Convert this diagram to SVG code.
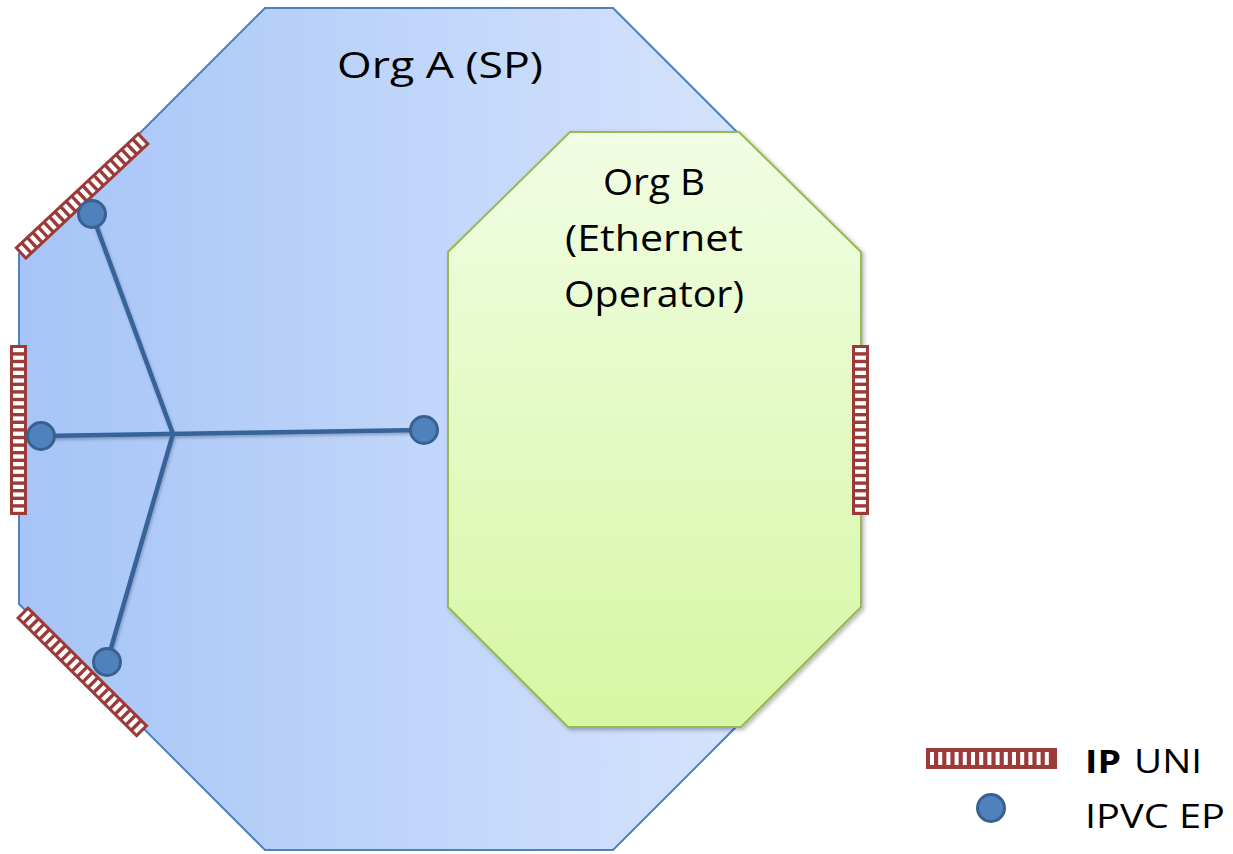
<svg xmlns="http://www.w3.org/2000/svg" xmlns:xlink="http://www.w3.org/1999/xlink" width="1233" height="854" viewBox="0 0 1233 854">
<style>
.lbl{font-family:"Open Sans","Liberation Sans",sans-serif;fill:#000;}
.conn{stroke:#36649a;stroke-width:4.5;fill:none;stroke-linecap:round;}
.ep{fill:#4f81bd;stroke:#39618f;stroke-width:3;}
</style>
<defs>
<linearGradient id="gA" x1="0" y1="0" x2="1" y2="0">
<stop offset="0" stop-color="#a6c4f7"/>
<stop offset="1" stop-color="#dde9fd"/>
</linearGradient>
<linearGradient id="gB" x1="0" y1="0" x2="0" y2="1">
<stop offset="0" stop-color="#f1fde4"/>
<stop offset="1" stop-color="#d6f7a3"/>
</linearGradient>
<filter id="sh" x="-10%" y="-10%" width="120%" height="120%">
<feDropShadow dx="2" dy="2" stdDeviation="2" flood-color="#000" flood-opacity="0.3"/>
</filter>
<filter id="lsh" x="-10%" y="-10%" width="120%" height="120%">
<feDropShadow dx="1" dy="2" stdDeviation="1.5" flood-color="#000" flood-opacity="0.25"/>
</filter>
<g id="uni">
<rect x="0" y="0" width="170" height="17" fill="#9b3a37"/>
<g fill="#fff">
<rect x="3" y="3" width="4.2" height="11"/><rect x="10.6" y="3" width="4.2" height="11"/><rect x="18.2" y="3" width="4.2" height="11"/><rect x="25.8" y="3" width="4.2" height="11"/><rect x="33.4" y="3" width="4.2" height="11"/><rect x="41" y="3" width="4.2" height="11"/><rect x="48.6" y="3" width="4.2" height="11"/><rect x="56.2" y="3" width="4.2" height="11"/><rect x="63.8" y="3" width="4.2" height="11"/><rect x="71.4" y="3" width="4.2" height="11"/><rect x="79" y="3" width="4.2" height="11"/><rect x="86.6" y="3" width="4.2" height="11"/><rect x="94.2" y="3" width="4.2" height="11"/><rect x="101.8" y="3" width="4.2" height="11"/><rect x="109.4" y="3" width="4.2" height="11"/><rect x="117" y="3" width="4.2" height="11"/><rect x="124.6" y="3" width="4.2" height="11"/><rect x="132.2" y="3" width="4.2" height="11"/><rect x="139.8" y="3" width="4.2" height="11"/><rect x="147.4" y="3" width="4.2" height="11"/><rect x="155" y="3" width="4.2" height="11"/><rect x="162.6" y="3" width="4.2" height="11"/>
</g>
</g>
</defs>

<g id="orgA">
<polygon points="265,8 613,8 859,254 859,604 613,850 265,850 19,604 19,254" fill="url(#gA)" stroke="#4f81bd" stroke-width="2"/>
<text class="lbl" x="440" y="78" font-size="37" text-anchor="middle" textLength="206" lengthAdjust="spacingAndGlyphs">Org A (SP)</text>
</g>

<g id="orgB">
<polygon points="570,132 739,132 861,252 861,607 741,727 568,727 448,607 448,252" fill="url(#gB)" stroke="#98b954" stroke-width="2" filter="url(#sh)"/>
<text class="lbl" x="654" y="195" font-size="37" text-anchor="middle" textLength="102" lengthAdjust="spacingAndGlyphs">Org B</text>
<text class="lbl" x="654" y="251" font-size="37" text-anchor="middle" textLength="178" lengthAdjust="spacingAndGlyphs">(Ethernet</text>
<text class="lbl" x="654" y="307" font-size="37" text-anchor="middle" textLength="180" lengthAdjust="spacingAndGlyphs">Operator)</text>
</g>

<g id="uni-top-left"><use xlink:href="#uni" href="#uni" transform="translate(20,254) rotate(-43.1) translate(0,-8.5)"/></g>
<g id="uni-left"><use xlink:href="#uni" href="#uni" transform="translate(27,345) rotate(90)"/></g>
<g id="uni-bottom-left"><use xlink:href="#uni" href="#uni" transform="translate(22,612) rotate(44.8) translate(0,-8.5)"/></g>
<g id="uni-right"><use xlink:href="#uni" href="#uni" transform="translate(869,345) rotate(90)"/></g>

<g id="connectors" filter="url(#lsh)">
<line class="conn" x1="92" y1="214" x2="173" y2="434"/>
<line class="conn" x1="41" y1="436" x2="424" y2="430"/>
<line class="conn" x1="173" y1="434" x2="107" y2="662"/>
</g>

<g id="ep-top"><circle class="ep" cx="92" cy="214" r="13.5"/></g>
<g id="ep-left"><circle class="ep" cx="41" cy="436" r="13.5"/></g>
<g id="ep-orgB"><circle class="ep" cx="424" cy="430" r="13.5"/></g>
<g id="ep-bottom"><circle class="ep" cx="107" cy="662" r="13.5"/></g>

<g id="legend">
<rect x="926" y="748" width="131" height="21" fill="#9b3a37"/>
<g fill="#fff">
<rect x="930" y="752" width="4" height="13"/><rect x="938.2" y="752" width="4" height="13"/><rect x="946.4" y="752" width="4" height="13"/><rect x="954.6" y="752" width="4" height="13"/><rect x="962.8" y="752" width="4" height="13"/><rect x="971" y="752" width="4" height="13"/><rect x="979.2" y="752" width="4" height="13"/><rect x="987.4" y="752" width="4" height="13"/><rect x="995.6" y="752" width="4" height="13"/><rect x="1003.8" y="752" width="4" height="13"/><rect x="1012" y="752" width="4" height="13"/><rect x="1020.2" y="752" width="4" height="13"/><rect x="1028.4" y="752" width="4" height="13"/><rect x="1036.6" y="752" width="4" height="13"/><rect x="1044.8" y="752" width="4" height="13"/>
</g>
<text class="lbl" x="1085" y="773" font-size="32" font-weight="bold" textLength="36" lengthAdjust="spacingAndGlyphs">IP</text>
<text class="lbl" x="1134" y="773" font-size="32" textLength="68" lengthAdjust="spacingAndGlyphs">UNI</text>
<circle class="ep" cx="991" cy="808" r="13.5"/>
<text class="lbl" x="1085" y="828" font-size="32" textLength="140" lengthAdjust="spacingAndGlyphs">IPVC EP</text>
</g>
</svg>
